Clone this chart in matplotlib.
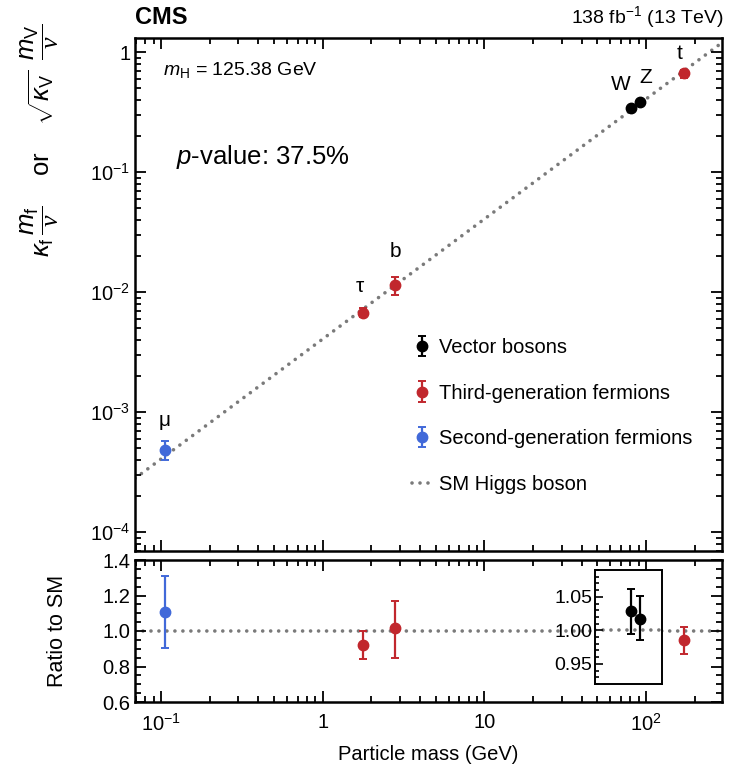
import matplotlib
matplotlib.use("Agg")
import matplotlib.pyplot as plt
import numpy as np
from matplotlib.ticker import FixedLocator, FixedFormatter, LogLocator, MultipleLocator, NullFormatter, NullLocator, FormatStrFormatter

plt.rcParams['font.family'] = ['Liberation Sans', 'DejaVu Sans']
plt.rcParams['mathtext.fontset'] = 'custom'
plt.rcParams['mathtext.rm'] = 'Liberation Sans'
plt.rcParams['mathtext.it'] = 'Liberation Sans:italic'
plt.rcParams['mathtext.bf'] = 'Liberation Sans:bold'
plt.rcParams['mathtext.sf'] = 'Liberation Serif:italic'

# ---------------- data ----------------
particles = ['μ', 'τ', 'b', 'W', 'Z', 't']
groups = ['second', 'third', 'third', 'vector', 'vector', 'third']
mass = [0.1057, 1.777, 2.8, 80.4, 91.2, 172.5]           # GeV
coupling = [4.82e-4, 6.75e-3, 1.143e-2, 0.341, 0.383, 0.668]
coupling_lo = [3.98e-4, 6.2e-3, 9.44e-3, 0.331, 0.372, 0.61]
coupling_hi = [5.73e-4, 7.3e-3, 1.34e-2, 0.351, 0.394, 0.715]
ratio = [1.108, 0.92, 1.015, 1.029, 1.017, 0.95]
ratio_lo = [0.907, 0.84, 0.85, 0.994, 0.985, 0.87]
ratio_hi = [1.31, 1.00, 1.17, 1.062, 1.051, 1.02]
vev = 246.22  # GeV, SM line: m / v
sm_mass_range = [0.069, 295]

group_labels = {'vector': 'Vector bosons',
                'third': 'Third-generation fermions',
                'second': 'Second-generation fermions'}
group_colors = {'vector': '#000000', 'third': '#c1272d', 'second': '#4169d9'}

# ---------------- figure ----------------
W, H = 736, 773
fig = plt.figure(figsize=(W / 100, H / 100), dpi=100)

def rect(x0, y0, x1, y1):
    return [x0 / W, 1 - y1 / H, (x1 - x0) / W, (y1 - y0) / H]

ax = fig.add_axes(rect(135, 38, 722, 551))
axr = fig.add_axes(rect(135, 560, 722, 702))

line_col = '#7a7a7a'
dot_style = dict(color=line_col, lw=2.6, linestyle=(0, (0.01, 2.2)), dash_capstyle='round')

# SM line
xs = np.array(sm_mass_range)
ax.plot(xs, xs / vev, **dot_style, zorder=1)
axr.plot(xs, [1, 1], **dot_style, zorder=1)

def errs(v, lo, hi):
    return [[a - b for a, b in zip(v, lo)], [c - a for a, c in zip(v, hi)]]

eb_kw = dict(fmt='o', ms=7.5, elinewidth=1.6, capsize=3, capthick=1.4, zorder=3)

handles = {}
for g in ['vector', 'third', 'second']:
    idx = [i for i, gg in enumerate(groups) if gg == g]
    m = [mass[i] for i in idx]
    c = [coupling[i] for i in idx]
    cl = [coupling_lo[i] for i in idx]
    ch = [coupling_hi[i] for i in idx]
    h = ax.errorbar(m, c, yerr=errs(c, cl, ch), color=group_colors[g], **eb_kw)
    handles[g] = h
    idx_r = [i for i in idx if groups[i] != 'vector']
    if idx_r:
        r = [ratio[i] for i in idx_r]
        rl = [ratio_lo[i] for i in idx_r]
        rh = [ratio_hi[i] for i in idx_r]
        axr.errorbar([mass[i] for i in idx_r], r, yerr=errs(r, rl, rh),
                     color=group_colors[g], **eb_kw)

# particle labels
label_offsets = {'μ': (0, 20), 'τ': (-3, 17), 'b': (0, 24), 'W': (-10, 14), 'Z': (6, 15), 't': (-5, 10)}
for p, m_, c_ in zip(particles, mass, coupling):
    dx, dy = label_offsets[p]
    ax.annotate(p, (m_, c_), xytext=(dx, dy), textcoords='offset pixels',
                ha='center', va='bottom', fontsize=15)

# axes scales
for a in (ax, axr):
    a.set_xscale('log')
    a.set_xlim(*sm_mass_range)
    a.tick_params(which='both', direction='in', top=True, right=True, width=1.3)
    a.tick_params(which='major', length=8, labelsize=14.5)
    a.tick_params(which='minor', length=4)
    for s in a.spines.values():
        s.set_linewidth(1.8)
    a.xaxis.set_major_locator(FixedLocator([0.1, 1, 10, 100]))
    a.xaxis.set_minor_locator(LogLocator(base=10, subs=np.arange(2, 10)))
    a.xaxis.set_minor_formatter(NullFormatter())

ax.set_yscale('log')
ax.set_ylim(6.95e-5, 1.31)
ax.yaxis.set_major_locator(FixedLocator([1e-4, 1e-3, 1e-2, 1e-1, 1]))
ax.yaxis.set_major_formatter(FixedFormatter(['10$^{-4}$', '10$^{-3}$', '10$^{-2}$', '10$^{-1}$', '1']))
ax.yaxis.set_minor_locator(LogLocator(base=10, subs=np.arange(2, 10)))
ax.yaxis.set_minor_formatter(NullFormatter())
ax.tick_params(labelbottom=False)

axr.set_ylim(0.6, 1.4)
axr.yaxis.set_major_locator(MultipleLocator(0.2))
axr.yaxis.set_minor_locator(MultipleLocator(0.05))
axr.yaxis.set_major_formatter(FormatStrFormatter('%.1f'))
axr.xaxis.set_major_formatter(FixedFormatter(['10$^{-1}$', '1', '10', '10$^2$']))
axr.tick_params(axis='x', pad=8)
axr.set_ylabel('Ratio to SM', fontsize=15.5)
axr.yaxis.set_label_coords(-0.114, 0.5)
axr.set_xlabel('Particle mass (GeV)', fontsize=14.5)
axr.xaxis.set_label_coords(0.5, -0.30)

# inset for W, Z
axi = fig.add_axes(rect(595, 570, 662, 684))
axi.set_xscale('log')
axi.set_xlim(48, 125)
axi.set_ylim(0.92, 1.09)
axi.plot([48, 125], [1, 1], **dot_style, zorder=1)
idx_v = [i for i, gg in enumerate(groups) if gg == 'vector']
rv = [ratio[i] for i in idx_v]
axi.errorbar([mass[i] for i in idx_v], rv,
             yerr=errs(rv, [ratio_lo[i] for i in idx_v], [ratio_hi[i] for i in idx_v]),
             color=group_colors['vector'], **eb_kw)
axi.xaxis.set_major_locator(NullLocator())
axi.xaxis.set_minor_locator(NullLocator())
axi.yaxis.set_major_locator(FixedLocator([0.95, 1.0, 1.05]))
axi.yaxis.set_minor_locator(MultipleLocator(0.01))
axi.yaxis.set_major_formatter(FormatStrFormatter('%.2f'))
axi.tick_params(which='both', direction='in', left=True, right=False, width=1.2)
axi.tick_params(which='major', length=6, labelsize=14, pad=2)
axi.tick_params(which='minor', length=3)
for s in axi.spines.values():
    s.set_linewidth(1.4)

# texts
fig.text(135 / W, 1 - 17 / H, 'CMS', fontsize=17, fontweight='bold', ha='left', va='center')
fig.text(724 / W, 1 - 17 / H, '138 fb$^{-1}$ (13 TeV)', fontsize=14, ha='right', va='center')
fig.text(163 / W, 1 - 70 / H, r'$m_\mathrm{H}$ = 125.38 GeV', fontsize=14, ha='left', va='center')
fig.text(176 / W, 1 - 157 / H, r'$p$-value: 37.5%', fontsize=18.5, ha='left', va='center')
fig.text(40 / W, 1 - 140 / H,
         r'$\kappa_\mathrm{f}\,\dfrac{m_\mathrm{f}}{\mathsf{v}}$    or    $\sqrt{\kappa_\mathrm{V}}\;\;\dfrac{m_\mathrm{V}}{\mathsf{v}}$',
         rotation=90, ha='center', va='center', fontsize=18.5)

# legend
sm_handle = matplotlib.lines.Line2D([], [], **dot_style)
leg = fig.legend([handles['vector'], handles['third'], handles['second'], sm_handle],
                 [group_labels['vector'], group_labels['third'], group_labels['second'], 'SM Higgs boson'],
                 loc='upper left', bbox_to_anchor=(412 / W, 1 - 338 / H), frameon=False,
                 fontsize=14.5, handlelength=1.0, handletextpad=0.35, labelspacing=1.32,
                 borderaxespad=0, borderpad=0)

fig.savefig('out.png', dpi=100)
